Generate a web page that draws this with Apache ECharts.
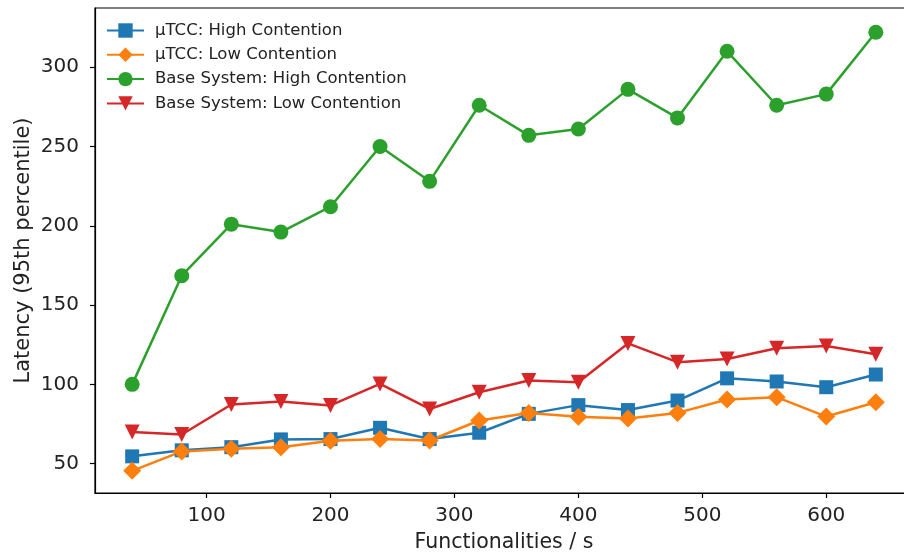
<!DOCTYPE html>
<html><head><meta charset="utf-8">
<script src="https://cdn.jsdelivr.net/npm/echarts@6/dist/echarts.min.js"></script>
<style>html,body{margin:0;padding:0;overflow:hidden;background:#fff}#c{width:913px;height:552px}</style>
</head><body><div id="c"></div>
<script>
const xValues = [40,80,120,160,200,240,280,320,360,400,440,480,520,560,600,640];
const utccHigh = [54.6,58.4,60.4,65.3,65.5,72.6,65.5,69.5,81.4,86.9,83.8,89.8,103.8,101.8,98.2,106.2];
const utccLow = [45.5,57.7,59.4,60.4,64.4,65.5,64.6,77.2,82.0,79.6,78.5,82.0,90.5,91.9,79.7,88.7];
const baseHigh = [100,168.5,201,196,212,250,228,276,257,261,286,268,310,276,283,322];
const baseLow = [70,68.4,87.3,89.2,86.7,100.3,84.5,95,102.4,101.3,125.8,114,116,122.8,124.2,119];
const xTicks = [100,200,300,400,500,600];
const yTicks = [50,100,150,200,250,300];
const names = ['µTCC: High Contention','µTCC: Low Contention','Base System: High Contention','Base System: Low Contention'];
const colors = ['#1f77b4','#ff7f0e','#2ca02c','#d62728'];
const tri = 'path://M0,0 L10,0 L5,9 Z';
const symbols = ['rect','diamond','circle',tri];
const sizes = [14,18,15,15];
const font = 'DejaVu Sans';
const seriesData = [utccHigh, utccLow, baseHigh, baseLow];

const chart = echarts.init(document.getElementById('c'), null, {renderer:'canvas'});
chart.setOption({
  animation:false,
  textStyle:{fontFamily:font},
  grid:{left:95,top:8,right:0,bottom:59,show:true,borderColor:'#000',borderWidth:1.2,containLabel:false,outerBoundsMode:'none'},
  legend:{
    orient:'vertical',left:101,top:17,itemWidth:37,itemHeight:18,itemGap:7.3,
    textStyle:{fontFamily:font,fontSize:16.5,color:'#222',padding:[0,0,0,6]},
    data:names
  },
  xAxis:{
    type:'value',min:10,max:670,
    name:'Functionalities / s',nameLocation:'middle',nameGap:39,nameMoveOverlap:false,
    nameTextStyle:{fontFamily:font,fontSize:20.5,color:'#222'},
    axisLine:{show:true,lineStyle:{color:'#000',width:1.2}},
    axisTick:{show:true,length:5,customValues:xTicks,lineStyle:{color:'#000',width:1.2}},
    axisLabel:{customValues:xTicks,fontFamily:font,fontSize:20,color:'#222',margin:13},
    splitLine:{show:false}
  },
  yAxis:{
    type:'value',min:31.5,max:337.3,
    name:'Latency (95th percentile)',nameLocation:'middle',nameGap:61,nameRotate:90,nameMoveOverlap:false,
    nameTextStyle:{fontFamily:font,fontSize:21,color:'#222'},
    axisLine:{show:true,lineStyle:{color:'#000',width:1.2}},
    axisTick:{show:true,length:5,customValues:yTicks,lineStyle:{color:'#000',width:1.2}},
    axisLabel:{customValues:yTicks,fontFamily:font,fontSize:20,color:'#222',margin:16},
    splitLine:{show:false}
  },
  series:seriesData.map((d,i)=>({
    name:names[i],type:'line',
    data:d.map((v,j)=>[xValues[j],v]),
    symbol:symbols[i],
    symbolSize:sizes[i],
    showAllSymbol:true,
    lineStyle:{color:colors[i],width:2.5},
    itemStyle:{color:colors[i],borderWidth:0},
    emphasis:{disabled:true}
  }))
});
</script></body></html>
